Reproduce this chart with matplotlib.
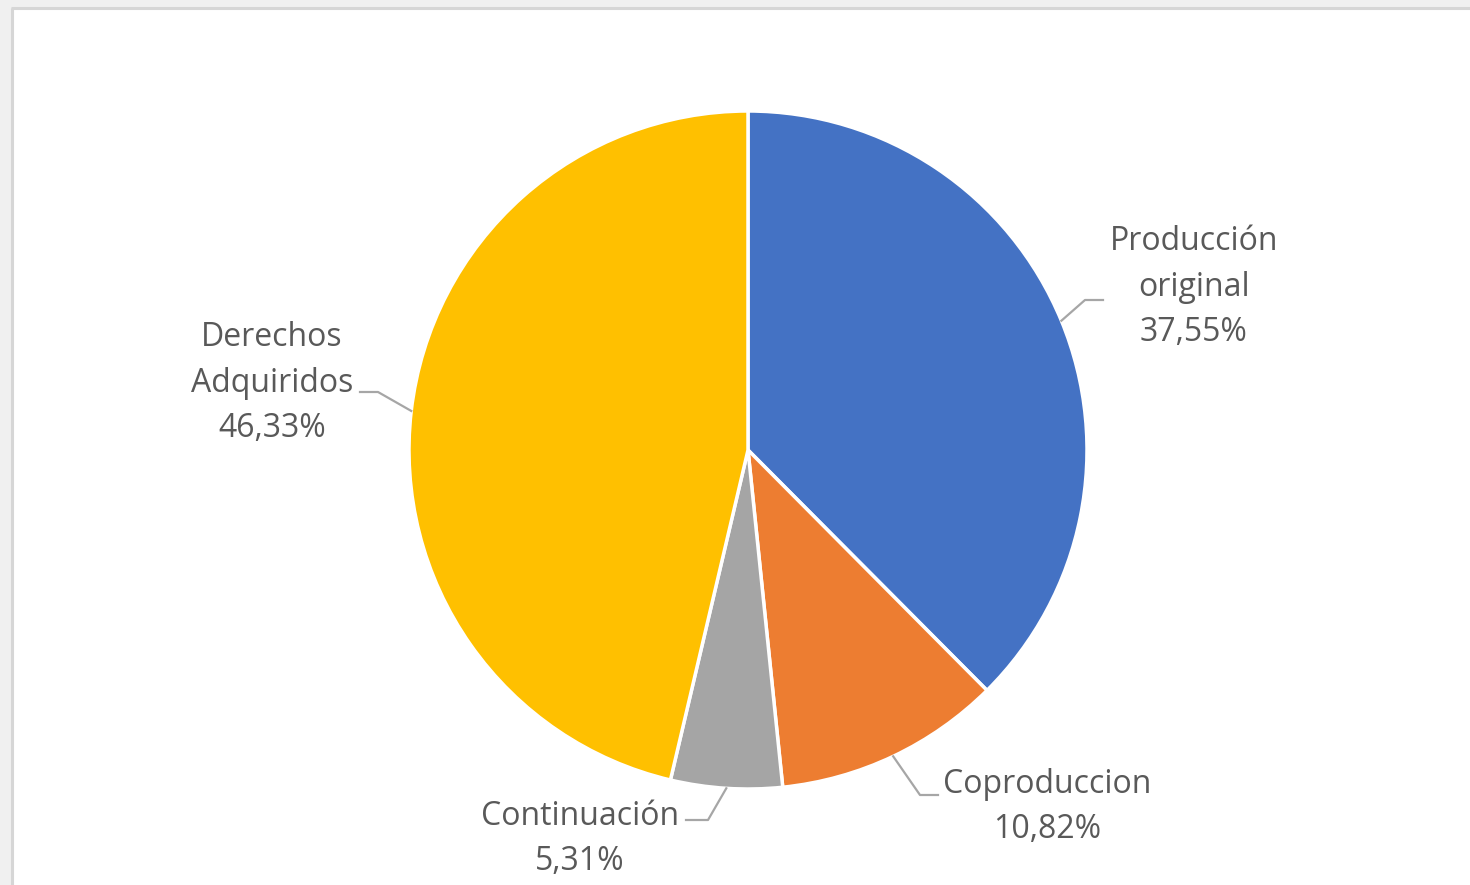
import numpy as np
import matplotlib.pyplot as plt
from matplotlib.patches import Rectangle

plt.rcParams["font.family"] = ["Open Sans", "DejaVu Sans"]

categories = ["Producción\noriginal", "Coproduccion", "Continuación", "Derechos\nAdquiridos"]
shares = [37.55, 10.82, 5.31, 46.33]
colors = ["#4472C4", "#ED7D31", "#A5A5A5", "#FFC000"]

# label anchor (centre of text block), leader elbow, end of horizontal run
label_pos = [(1194, 598), (1047, 78), (580, 46), (272, 502)]
elbows = [(1085, 585), (920, 90), (708, 65), (378, 493)]
runs = [(1103, 585), (938, 90), (686, 65), (360, 493)]

W, H = 1470, 885
CX, CY, R = 748, 435, 339

fig = plt.figure(figsize=(W / 100, H / 100), dpi=100, facecolor="#f0f0f0")
ax = fig.add_axes([0, 0, 1, 1])
ax.set_xlim(0, W)
ax.set_ylim(0, H)
ax.set_aspect("equal")
ax.axis("off")

# chart area with its frame on the left and top
ax.add_patch(Rectangle((14, 0), W - 14, H - 9, facecolor="white", edgecolor="none", zorder=0))
ax.plot([12.5, 12.5], [0, H - 7.5], color="#d6d6d6", lw=2.2, zorder=1, solid_capstyle="butt")
ax.plot([11, W], [H - 7.5, H - 7.5], color="#d6d6d6", lw=2.2, zorder=1, solid_capstyle="butt")

wedges, _ = ax.pie(shares, colors=colors, startangle=90, counterclock=False,
                   center=(CX, CY), radius=R, frame=True,
                   wedgeprops=dict(edgecolor="white", linewidth=2.5))
ax.set_xlim(0, W)
ax.set_ylim(0, H)
ax.axis("off")

for w, cat, val, lp, el, rn in zip(wedges, categories, shares, label_pos, elbows, runs):
  mid = np.deg2rad((w.theta1 + w.theta2) / 2)
  sx, sy = CX + R * np.cos(mid), CY + R * np.sin(mid)
  ax.plot([sx, el[0], rn[0]], [sy, el[1], rn[1]], color="#a6a6a6", lw=1.6, zorder=3)
  txt = cat + "\n" + f"{val:.2f}".replace(".", ",") + "%"
  ax.text(lp[0], lp[1], txt, ha="center", va="center", fontsize=23,
          color="#595959", linespacing=1.5, zorder=4)

fig.savefig("out.png", dpi=100, facecolor=fig.get_facecolor())
